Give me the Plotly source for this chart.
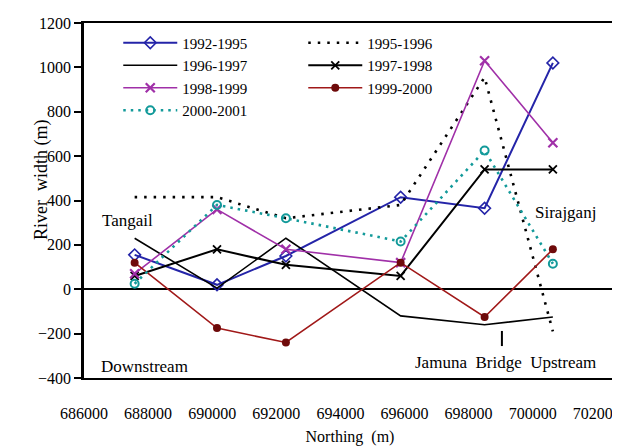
import plotly.graph_objects as go

northing = [687580, 690150, 692300, 695880, 698500, 700630]

series_names = ["1992-1995", "1995-1996", "1996-1997", "1997-1998",
                "1998-1999", "1999-2000", "2000-2001"]
w_1992_1995 = [155, 20, 150, 415, 365, 1020]
w_1995_1996 = [415, 415, 320, 380, 955, -190]
w_1996_1997 = [230, 5, 230, -120, -160, -125]
w_1997_1998 = [60, 180, 110, 60, 540, 540]
w_1998_1999 = [70, 360, 180, 120, 1030, 660]
w_1999_2000 = [120, -175, -240, 120, -125, 180]
w_2000_2001 = [25, 380, 320, 215, 625, 115]

x_ticks = [686000, 688000, 690000, 692000, 694000, 696000, 698000, 700000, 702000]
y_ticks = [-400, -200, 0, 200, 400, 600, 800, 1000, 1200]

bridge_x = 699040

FONT = "Liberation Serif, Times New Roman, serif"

styles = [
    dict(line=dict(color="#2424a8", width=2), mode="lines+markers",
         marker=dict(symbol="diamond-open", size=9, color="#2424a8", line=dict(width=1.6))),
    dict(line=dict(color="black", width=2.6, dash="2.5px,7px"), mode="lines"),
    dict(line=dict(color="black", width=1.6), mode="lines"),
    dict(line=dict(color="black", width=2), mode="lines+markers",
         marker=dict(symbol="x-thin-open", size=8, color="black", line=dict(width=1.8, color="black"))),
    dict(line=dict(color="#a030a8", width=1.6), mode="lines+markers",
         marker=dict(symbol="x-thin-open", size=9, color="#a030a8", line=dict(width=2.2, color="#a030a8"))),
    dict(line=dict(color="#a01818", width=1.6), mode="lines+markers",
         marker=dict(symbol="circle", size=8, color="#6e0a0a", line=dict(width=0))),
    dict(line=dict(color="#139a9a", width=2.6, dash="2.5px,5px"), mode="lines+markers",
         marker=dict(symbol="circle-open", size=8, color="#139a9a", line=dict(width=2))),
]
values = [w_1992_1995, w_1995_1996, w_1996_1997, w_1997_1998,
          w_1998_1999, w_1999_2000, w_2000_2001]

fig = go.Figure()
for name, vals, st in zip(series_names, values, styles):
    fig.add_trace(go.Scatter(x=northing, y=vals, name=name, **st))

ann_font = dict(family=FONT, size=17, color="black")
annotations = [
    dict(x=686500, y=312, text="Tangail", xanchor="left", yanchor="middle"),
    dict(x=686470, y=-346, text="Downstream", xanchor="left", yanchor="middle"),
    dict(x=700010, y=344, text="Sirajganj", xanchor="left", yanchor="middle"),
    dict(x=696266, y=-332, text="Jamuna&nbsp; Bridge&nbsp; Upstream", xanchor="left", yanchor="middle"),
]
for a in annotations:
    a.update(xref="x", yref="y", showarrow=False, font=ann_font)
annotations.append(dict(xref="paper", yref="paper", x=-0.0808, y=0.5577,
                        text="River&nbsp; width (m)", textangle=-90, showarrow=False,
                        xanchor="center", yanchor="middle",
                        font=dict(family=FONT, size=18, color="black")))

fig.update_layout(
    width=620, height=447,
    margin=dict(l=76, r=12, t=15, b=77, autoexpand=False),
    paper_bgcolor="white", plot_bgcolor="white",
    font=dict(family=FONT, size=15, color="black"),
    showlegend=True,
    legend=dict(orientation="h", x=0.0644, y=0.99, xanchor="left", yanchor="top",
                entrywidth=116, entrywidthmode="pixels", itemwidth=54,
                font=dict(family=FONT, size=15, color="black"),
                bgcolor="rgba(0,0,0,0)", traceorder="normal"),
    annotations=annotations,
    shapes=[dict(type="line", xref="x", yref="y", x0=bridge_x, x1=bridge_x,
                 y0=-188, y1=-256, line=dict(color="black", width=2))],
)

fig.update_xaxes(
    range=[686000, 702600], tickvals=x_ticks, ticktext=[str(v) for v in x_ticks],
    showgrid=False, zeroline=False, showline=True, linecolor="black", linewidth=2,
    mirror=True, ticks="", ticklabelstandoff=20,
    tickfont=dict(family=FONT, size=16),
    title=dict(text="Northing&nbsp; (m)", font=dict(family=FONT, size=16), standoff=10),
    automargin=False,
)
fig.update_yaxes(
    range=[-400, 1200], tickvals=y_ticks, showgrid=False,
    zeroline=True, zerolinecolor="black", zerolinewidth=2,
    showline=True, linecolor="black", linewidth=2.5, mirror=True,
    ticks="outside", ticklen=7, tickwidth=2, tickcolor="black",
    tickfont=dict(family=FONT, size=16),
    automargin=False,
)

fig.write_html("out.html")
